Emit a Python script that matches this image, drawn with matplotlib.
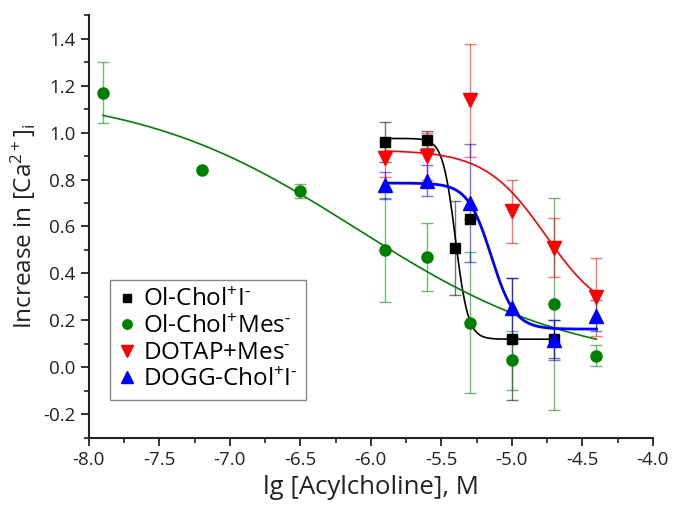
import numpy as np
import matplotlib
matplotlib.use("Agg")
import matplotlib.pyplot as plt
from matplotlib.ticker import MultipleLocator, FormatStrFormatter


FIGURE_WIDTH_PX = 673
FIGURE_HEIGHT_PX = 505
FIGURE_DPI = 100
ERR_ALPHA = 0.55

plt.rcParams["font.family"] = ["Open Sans", "DejaVu Sans"]
plt.rcParams["axes.unicode_minus"] = False
plt.rcParams["mathtext.fontset"] = "custom"
plt.rcParams["mathtext.rm"] = "Open Sans"
plt.rcParams["mathtext.it"] = "Open Sans"
plt.rcParams["mathtext.default"] = "rm"

# measured points (lg concentration, increase, error)
ol_i_x = [-5.9, -5.6, -5.4, -5.3, -5.0, -4.7]
ol_i_y = [0.96, 0.97, 0.51, 0.63, 0.12, 0.12]
ol_i_err = [0.085, 0.035, 0.20, 0.0, 0.26, 0.08]

ol_mes_x = [-7.9, -7.2, -6.5, -5.9, -5.6, -5.3, -5.0, -4.7, -4.4]
ol_mes_y = [1.17, 0.84, 0.75, 0.50, 0.47, 0.19, 0.03, 0.27, 0.05]
ol_mes_err = [0.13, 0.0, 0.03, 0.22, 0.145, 0.30, 0.125, 0.45, 0.046]

dotap_x = [-5.9, -5.6, -5.3, -5.0, -4.7, -4.4]
dotap_y = [0.89, 0.90, 1.137, 0.665, 0.51, 0.30]
dotap_err = [0.08, 0.10, 0.24, 0.135, 0.125, 0.165]

dogg_x = [-5.9, -5.6, -5.3, -5.0, -4.7, -4.4]
dogg_y = [0.775, 0.795, 0.70, 0.255, 0.115, 0.22]
dogg_err = [0.057, 0.065, 0.25, 0.125, 0.085, 0.065]

# Boltzmann fit parameters: (A1, A2, x0, dx, x_start, x_end)
ol_i_fit = (0.975, 0.12, -5.40, 0.045, -5.9, -4.7)
ol_mes_fit = (1.18, 0.0, -6.10, 0.78, -7.9, -4.4)
dotap_fit = (0.925, 0.20, -4.76, 0.215, -5.9, -4.4)
dogg_fit = (0.785, 0.163, -5.146, 0.0836, -5.9, -4.4)

labels = [
    r"Ol-Chol$^{+}$I$^{\text{-}}$",
    r"Ol-Chol$^{+}$Mes$^{\text{-}}$",
    r"DOTAP+Mes$^{\text{-}}$",
    r"DOGG-Chol$^{+}$I$^{\text{-}}$",
]


def boltzmann_curve(fit):
    a1, a2, x0, dx, x_start, x_end = fit
    xs = np.linspace(x_start, x_end, 400)
    return xs, a2 + (a1 - a2) / (1 + np.exp((xs - x0) / dx))


def main() -> None:
    fig = plt.figure(
        figsize=(FIGURE_WIDTH_PX / FIGURE_DPI, FIGURE_HEIGHT_PX / FIGURE_DPI),
        dpi=FIGURE_DPI,
    )
    ax = fig.add_axes([0.132, 0.133, 0.838, 0.837])

    series = [
        (ol_i_x, ol_i_y, ol_i_err, ol_i_fit, "black", "s", 7, 1.2),
        (ol_mes_x, ol_mes_y, ol_mes_err, ol_mes_fit, "#008000", "o", 8, 1.2),
        (dotap_x, dotap_y, dotap_err, dotap_fit, "#ff0000", "v", 9.5, 1.2),
        (dogg_x, dogg_y, dogg_err, dogg_fit, "#0000ff", "^", 9.5, 2.0),
    ]

    handles = []
    for (xs, ys, errs, fit, color, marker, size, lw), label in zip(series, labels):
        ax.errorbar(xs, ys, yerr=errs, fmt="none", ecolor=color,
                    alpha=ERR_ALPHA, elinewidth=1, capsize=4, capthick=1)
        fx, fy = boltzmann_curve(fit)
        ax.plot(fx, fy, color=color, lw=lw, zorder=3)
        h, = ax.plot(xs, ys, linestyle="none", marker=marker, markersize=size,
                     color=color, label=label, zorder=4)
        handles.append(h)

    ax.set_xlim(-8.0, -4.0)
    ax.set_ylim(-0.3, 1.5)
    ax.xaxis.set_major_locator(MultipleLocator(0.5))
    ax.xaxis.set_minor_locator(MultipleLocator(0.25))
    ax.yaxis.set_minor_locator(MultipleLocator(0.1))
    ax.xaxis.set_major_formatter(FormatStrFormatter("%.1f"))
    ax.yaxis.set_major_formatter(FormatStrFormatter("%.1f"))
    ax.set_yticks(np.arange(-0.2, 1.41, 0.2))

    for side in ("top", "right"):
        ax.spines[side].set_visible(False)
    for side in ("left", "bottom"):
        ax.spines[side].set_linewidth(1.5)
        ax.spines[side].set_color("#222222")
    ax.tick_params(which="major", direction="out", length=6, width=1.3,
                   labelsize=13.5, colors="#222222")
    ax.tick_params(which="minor", direction="out", length=3.5, width=1.2,
                   colors="#222222")

    ax.set_xlabel("lg [Acylcholine], M", fontsize=18.5, color="#222222",
                  labelpad=4)
    ax.set_ylabel(r"Increase in [Ca$^{2+}$]$_{i}$", fontsize=17.5,
                  color="#222222", labelpad=4)

    legend = ax.legend(handles=handles, loc="lower left",
                       bbox_to_anchor=(0.037, 0.089), borderaxespad=0,
                       fontsize=17.5, handlelength=0.7, handletextpad=0.3,
                       labelspacing=0.1, borderpad=0.35, fancybox=False,
                       framealpha=1, markerscale=0.85)
    legend.get_frame().set_edgecolor("#888888")
    legend.get_frame().set_linewidth(1.0)

    fig.savefig("out.png", dpi=FIGURE_DPI)


if __name__ == "__main__":
    main()
